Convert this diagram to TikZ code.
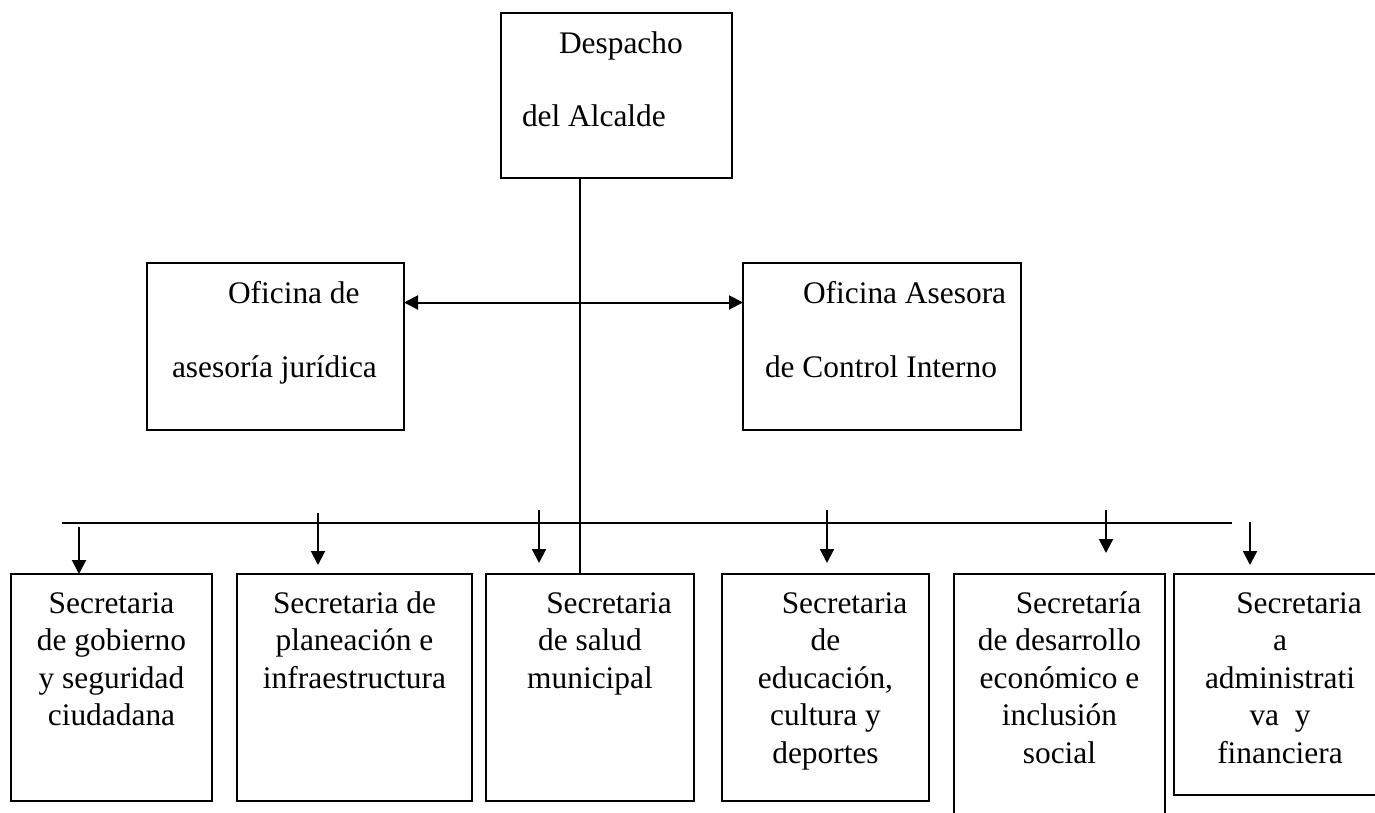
\documentclass[tikz,border=0pt]{standalone}
\usepackage{fontspec}
\setmainfont{Liberation Serif}
\usetikzlibrary{arrows.meta}
\tikzset{
  box/.style={draw, line width=1pt, inner sep=0pt, outer sep=0pt, anchor=north west},
  conn/.style={line width=1.1pt},
  bus/.style={line width=0.7pt},
  down/.style={line width=1pt, -{Triangle[width=7pt,length=7pt]}},
  both/.style={line width=1pt, {Triangle[width=7pt,length=7pt]}-{Triangle[width=7pt,length=7pt]}},
}
\newcommand{\orgtop}[3]{\parbox[c][#2][t]{#1}{\raggedright\fontsize{15.7}{37}\selectfont\rule{0pt}{20pt}#3}}
\newcommand{\orgbot}[3]{\parbox[c][#2][t]{#1}{\centering\fontsize{15.7}{18.75}\selectfont\rule{0pt}{19.5pt}#3}}
\begin{document}
\begin{tikzpicture}[x=0.5pt, y=-0.5pt]
\useasboundingbox (0,0) rectangle (1375,813);
% head and advisory offices
\node[box] (despacho) at (501,13) {\orgtop{115.5pt}{82.5pt}{\hspace*{29pt}Despacho\\\hspace*{10.5pt}del Alcalde}};
\node[box] (juridica) at (147,263) {\orgtop{128.5pt}{83.5pt}{\hspace*{40.5pt}Oficina de\\\hspace*{12.5pt}asesoría jurídica}};
\node[box] (control) at (743,263) {\orgtop{139pt}{83.5pt}{\hspace*{30pt}Oficina Asesora\\\hspace*{11pt}de Control Interno}};
% secretarias
\node[box] (sgob) at (11,574) {\orgbot{100.5pt}{113.5pt}{Secretaria\\de gobierno\\y seguridad\\ciudadana}};
\node[box] (splan) at (237,574) {\orgbot{117.5pt}{113.5pt}{Secretaria de\\planeación e\\infraestructura}};
\node[box] (ssalud) at (486,574) {\orgbot{104pt}{113.5pt}{\hspace*{19pt}Secretaria\\de salud\\municipal}};
\node[box] (seduc) at (722,574) {\orgbot{103.5pt}{113.5pt}{\hspace*{19pt}Secretaria\\de\\educación,\\cultura y\\deportes}};
\node[box] (sdes) at (954,574) {\orgbot{105.5pt}{130pt}{\hspace*{19pt}Secretaría\\de desarrollo\\económico e\\inclusión\\social}};
\node[box] (sadm) at (1174,574) {\orgbot{106pt}{110.5pt}{\hspace*{19pt}Secretaria\\a\\administrati\\va~~y\\financiera}};
% lines
\draw[conn] ([xshift=39.5pt]despacho.south west) coordinate (trunk) -- (trunk |- ssalud.north);
\draw[both] ([yshift=22pt]juridica.east) -- ([yshift=22pt]control.west);
\coordinate (busL) at (62,523);
\coordinate (busR) at (1232,523);
\draw[bus] (busL) -- (busR);
\foreach \b/\x/\ya/\g in {sgob/79/527/0, splan/318/513/9, ssalud/539/510/11, seduc/827/510/11, sdes/1106/510/21, sadm/1250/522/9}{
  \coordinate (t\b) at (\x,\ya);
  \draw[down] (t\b) -- ([yshift=\g*0.5pt]\b.north -| t\b);
}
\end{tikzpicture}
\end{document}
